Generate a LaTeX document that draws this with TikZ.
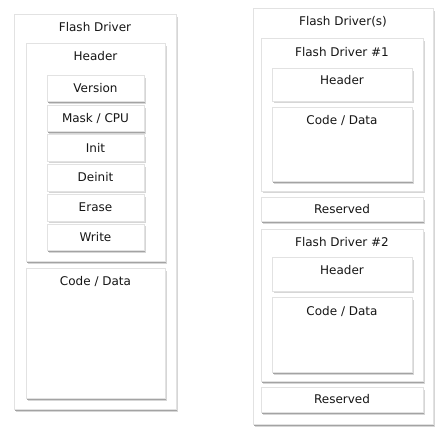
\documentclass[tikz,border=0pt]{standalone}
\usepackage{fontspec}
\setmainfont{DejaVu Sans}
\usetikzlibrary{shadows}
\definecolor{edge}{HTML}{E2E2E2}
\definecolor{txt}{HTML}{151515}
\tikzset{
  box/.style={draw=edge, fill=white, line width=0.6pt, inner sep=0pt, anchor=north west,
    general shadow={shadow xshift=0.9pt, shadow yshift=-1.6pt, fill=black!16},
    general shadow={shadow xshift=0.5pt, shadow yshift=-0.9pt, fill=black!36}},
  lbl/.style={inner sep=0pt, text=txt, font=\fontsize{9}{11}\selectfont}
}
\newcommand{\bx}[5]{\node[box, minimum width={(#4-#2)*0.75pt}, minimum height={(#5-#3)*0.75pt}] (#1) at (#2,#3) {};}
\begin{document}
\begin{tikzpicture}[x=0.75pt,y=-0.75pt]
\useasboundingbox (0,0) rectangle (443,430);
% left column
\bx{lout}{14}{14}{176}{409}
\node[lbl] (tlout) at (95,27) {Flash Driver};
\bx{lhdr}{26}{43}{165}{261}
\node[lbl] (tlhdr) at (95.5,56) {Header};
\bx{ver}{47}{75}{144}{101}
\node[lbl] (tver) at (95.5,88) {Version};
\bx{mask}{47}{105}{144}{131}
\node[lbl] (tmask) at (95.5,118) {Mask / CPU};
\bx{init}{47}{134}{144}{160.5}
\node[lbl] (tinit) at (95.5,147.5) {Init};
\bx{deinit}{47}{164}{144}{190.5}
\node[lbl] (tdeinit) at (95.5,177.5) {Deinit};
\bx{erase}{47}{194}{144}{220.5}
\node[lbl] (terase) at (95.5,207.5) {Erase};
\bx{write}{47}{223.5}{144}{250}
\node[lbl] (twrite) at (95.5,237) {Write};
\bx{lcode}{26}{268}{165}{398}
\node[lbl] (tlcode) at (95.5,281) {Code / Data};
% right column
\bx{rout}{253}{8}{433}{424}
\node[lbl] (trout) at (343,22) {Flash Driver(s)};
\bx{fdone}{261}{38}{423}{190.5}
\node[lbl] (tfdone) at (342,52) {Flash Driver \#1};
\bx{hone}{272}{68}{412}{100.5}
\node[lbl] (thone) at (342,80) {Header};
\bx{cone}{272}{107}{412}{181}
\node[lbl] (tcone) at (342,120) {Code / Data};
\bx{resone}{261}{197}{423}{221}
\node[lbl] (tresone) at (342,209) {Reserved};
\bx{fdtwo}{261}{229}{423}{381}
\node[lbl] (tfdtwo) at (342,242) {Flash Driver \#2};
\bx{htwo}{272}{257}{412}{290.5}
\node[lbl] (thtwo) at (342,270) {Header};
\bx{ctwo}{272}{297}{412}{372}
\node[lbl] (tctwo) at (342,311) {Code / Data};
\bx{restwo}{261}{387}{423}{412}
\node[lbl] (trestwo) at (342,399) {Reserved};
\end{tikzpicture}
\end{document}
